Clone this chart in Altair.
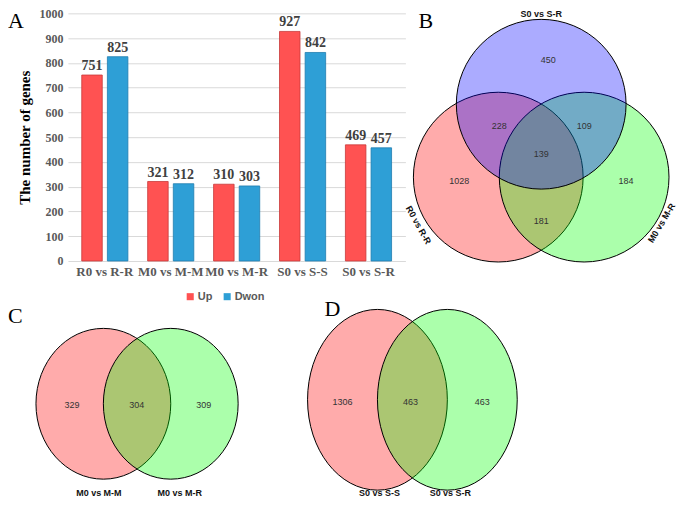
import altair as alt
import pandas as pd

# ---------------- data ----------------
categories = ["R0 vs R-R", "M0 vs M-M", "M0 vs M-R", "S0 vs S-S", "S0 vs S-R"]
up_values = [751, 321, 310, 927, 469]
down_values = [825, 312, 303, 842, 457]
series_names = ["Up", "Dwon"]
y_ticks = [0, 100, 200, 300, 400, 500, 600, 700, 800, 900, 1000]

venn_b_sets = ["R0 vs R-R", "M0 vs M-R", "S0 vs S-R"]
venn_b_counts = [1028, 184, 450, 228, 109, 181, 139]  # R, M, S, R&S, S&M, R&M, all

venn_c_sets = ["M0 vs M-M", "M0 vs M-R"]
venn_c_counts = [329, 304, 309]

venn_d_sets = ["S0 vs S-S", "S0 vs S-R"]
venn_d_counts = [1306, 463, 463]

# ---------------- layout / style ----------------
SERIF = "Liberation Serif"
SANS = "Liberation Sans"
BAR_COLORS = ["#FF5252", "#2E9FD6"]
BAR_STROKES = ["#C83A3A", "#1F7DB0"]
VENN3_COLORS = ["#FF0000", "#00FF00", "#0000FF"]
VENN2_COLORS = ["#FF0000", "#00FF00"]

A_W, A_H = 338, 248
B_W, B_H = 265, 248
C_W, C_H = 338, 230
D_W, D_H = 265, 230

# panel-local layout of the Venn diagrams (pixels inside each panel)
B_CIRCLES = [(93, 164), (179, 164), (136, 91)]
B_COUNT_POS = [(54, 168), (221, 168), (143, 47), (94, 113), (179, 113), (136, 208), (136, 141)]
B_NAME_POS = [(13, 212, 61), (256.5, 210, 301), (136, 1, 0)]
C_ELLIPSES = [(35.5, 143), (103, 143)]
C_COUNT_POS = [(4, 144), (69, 144), (136, 144)]
C_NAME_POS = [(31, 232), (112, 232)]
D_ELLIPSES = [(-28, 139), (42, 139)]
D_COUNT_POS = [(-63, 141), (5, 141), (77, 141)]
D_NAME_POS = [(-26, 232), (45, 232)]


def ellipse_path(a):
    k = 0.5523
    return (f"M {a},0 C {a},{k} {a*k},1 0,1 C {-a*k},1 {-a},{k} {-a},0 "
            f"C {-a},{-k} {-a*k},-1 0,-1 C {a*k},-1 {a},{-k} {a},0 Z")


def letter(ch, x, y):
    return alt.Chart(pd.DataFrame({"t": [ch]})).mark_text(
        font=SERIF, fontSize=22, color="black", align="left", baseline="top"
    ).encode(text="t:N", x=alt.value(x), y=alt.value(y))


# invisible frame fixing the drawing's extent
frame = alt.Chart(pd.DataFrame({"f": [0]})).mark_rect(
    fill="white", fillOpacity=0, strokeOpacity=0
).encode(x=alt.value(-60), x2=alt.value(609), y=alt.value(-8), y2=alt.value(485))

# ---------------- panel A: bars ----------------
bar_df = pd.DataFrame({
    "category": categories * 2,
    "type": ["Up"] * len(categories) + ["Dwon"] * len(categories),
    "value": up_values + down_values,
})

base = alt.Chart(bar_df).encode(
    x=alt.X("category:N", sort=categories,
            scale=alt.Scale(paddingInner=0.3, paddingOuter=0.21),
            axis=alt.Axis(title=None, labelAngle=0, labelFont=SERIF, labelFontWeight="bold",
                          labelFontSize=13, labelColor="#595959", domain=False, ticks=False,
                          labelPadding=5)),
    xOffset=alt.XOffset("type:N", sort=series_names,
                        scale=alt.Scale(paddingInner=0.2, paddingOuter=0)),
    y=alt.Y("value:Q", scale=alt.Scale(domain=[0, 1000], nice=False),
            axis=alt.Axis(values=y_ticks, format="d", title="The number of genes",
                          titleFont=SERIF, titleFontWeight="bold", titleFontSize=15,
                          titleColor="black", titlePadding=6, labelFont=SERIF,
                          labelFontWeight="bold", labelFontSize=12, labelColor="#595959",
                          domain=False, ticks=False, labelPadding=5, grid=True,
                          gridColor="#D9D9D9")),
)

bars = base.mark_bar(strokeWidth=0.8).encode(
    color=alt.Color("type:N", sort=series_names,
                    scale=alt.Scale(domain=series_names, range=BAR_COLORS),
                    legend=alt.Legend(orient="none", legendX=117, legendY=278,
                                      direction="horizontal", title=None, symbolType="square",
                                      symbolSize=50, symbolStrokeWidth=0, labelFont=SANS,
                                      labelFontWeight="bold", labelFontSize=11,
                                      labelColor="#595959", labelOffset=2, columnPadding=9)),
    stroke=alt.Stroke("type:N", sort=series_names,
                      scale=alt.Scale(domain=series_names, range=BAR_STROKES), legend=None),
)
bar_labels = base.mark_text(dy=-9, font=SERIF, fontWeight="bold", fontSize=14,
                            color="#404040").encode(text="value:Q")

panel_a = alt.layer(frame, bars, bar_labels, letter("A", -60, -2)).properties(width=A_W, height=A_H)


# ---------------- Venn helpers ----------------
def venn_panel(W, H, names, colors, centers, shape, size, counts, count_pos, name_pos, letter_spec):
    circ_df = pd.DataFrame({
        "name": names,
        "cx": [c[0] for c in centers],
        "cy": [c[1] for c in centers],
        "ord": list(range(len(names))),
    })
    xs = alt.Scale(domain=[0, W], nice=False, zero=False)
    ys = alt.Scale(domain=[0, H], nice=False, zero=False, reverse=True)
    circles = alt.Chart(circ_df).mark_point(
        shape=shape, size=size, filled=True, opacity=1, fillOpacity=0.33,
        stroke="black", strokeWidth=1, strokeOpacity=1
    ).encode(
        x=alt.X("cx:Q", scale=xs, axis=None),
        y=alt.Y("cy:Q", scale=ys, axis=None),
        fill=alt.Fill("name:N", scale=alt.Scale(domain=names, range=colors), legend=None),
        order=alt.Order("ord:Q"),
    )
    cnt_df = pd.DataFrame({
        "count": counts,
        "x": [p[0] for p in count_pos],
        "y": [p[1] for p in count_pos],
    })
    cnt = alt.Chart(cnt_df).mark_text(font=SANS, fontSize=9, color="#333333",
                                      baseline="middle").encode(
        x=alt.X("x:Q", scale=xs, axis=None), y=alt.Y("y:Q", scale=ys, axis=None),
        text="count:Q")
    nm_df = pd.DataFrame({
        "name": names,
        "x": [p[0] for p in name_pos],
        "y": [p[1] for p in name_pos],
        "ang": [p[2] if len(p) > 2 else 0 for p in name_pos],
    })
    nm = alt.Chart(nm_df).mark_text(font=SANS, fontSize=9, fontWeight="bold", color="#111111",
                                    baseline="middle").encode(
        x=alt.X("x:Q", scale=xs, axis=None), y=alt.Y("y:Q", scale=ys, axis=None),
        text="name:N", angle=alt.Angle("ang:Q", scale=None))
    return alt.layer(circles, cnt, nm, letter(*letter_spec)).properties(width=W, height=H)


panel_b = venn_panel(B_W, B_H, venn_b_sets, VENN3_COLORS, B_CIRCLES, "circle", 170 * 170,
                     venn_b_counts, B_COUNT_POS, B_NAME_POS, ("B", 13, -2))
panel_c = venn_panel(C_W, C_H, venn_c_sets, VENN2_COLORS, C_ELLIPSES,
                     ellipse_path(round(67.5 / 75.5, 4)), 151 * 151,
                     venn_c_counts, C_COUNT_POS, C_NAME_POS, ("C", -60, 45))
panel_d = venn_panel(D_W, D_H, venn_d_sets, VENN2_COLORS, D_ELLIPSES,
                     ellipse_path(round(70 / 90.5, 4)), 181 * 181,
                     venn_d_counts, D_COUNT_POS, D_NAME_POS, ("D", -81, 38))

chart = alt.concat(
    panel_a, panel_b, panel_c, panel_d, columns=2, spacing=0, bounds="flush"
).resolve_scale(
    fill="independent", color="independent", stroke="independent"
).properties(
    padding={"left": 0, "top": -3, "right": -1, "bottom": 0}
).configure_view(stroke=None)

chart.save("out.html", embed_options={"renderer": "svg", "actions": False})
